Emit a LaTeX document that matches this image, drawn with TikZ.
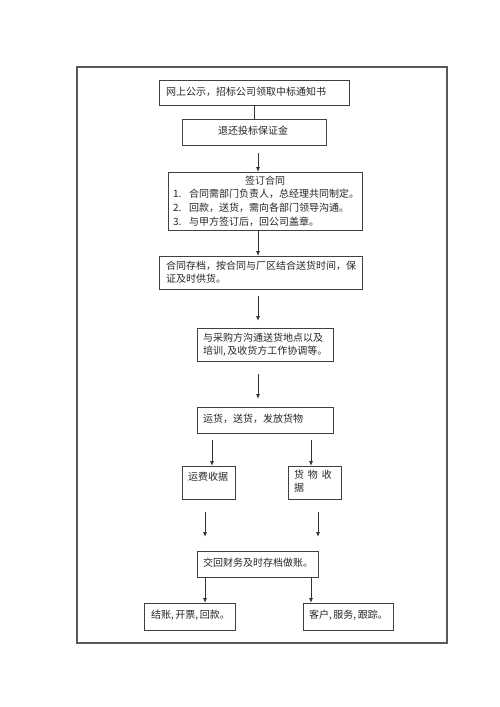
\documentclass[tikz,border=0pt]{standalone}
\usepackage{fontspec}
\setmainfont{Noto Sans CJK SC}
\usetikzlibrary{arrows.meta,calc}
\tikzset{
  boxstyle/.style={draw=black!75, line width=0.8pt, inner sep=0pt, outer sep=0pt, anchor=north west, fill=white},
  txt/.style={inner sep=0pt, outer sep=0pt, anchor=west, align=left, font=\fontsize{10}{13.5}\selectfont, text=black!85},
  ln/.style={draw=black!80, line width=0.8pt},
  arr/.style={ln, -{Latex[length=5pt,width=4pt]}},
  frame/.style={draw=black!65, line width=1.6pt}
}
\newcommand\mybox[5]{\node[boxstyle, minimum width=#4pt, minimum height=#5pt] (#1) at (#2,#3) {};}
\begin{document}
\begin{tikzpicture}[x=1pt,y=-1pt]
\useasboundingbox (0,0) rectangle (500,707);
\node[frame, minimum width=370pt, minimum height=576pt, inner sep=0pt, anchor=north west] (outer) at (76,66) {};
% boxes
\mybox{b1}{159}{80}{190}{25}
\mybox{b2}{182}{119}{144}{26}
\mybox{b3}{168}{172}{194}{58}
\mybox{b4}{159}{256}{203}{33}
\mybox{b5}{197}{328}{136}{33}
\mybox{b6}{197}{407}{136}{26}
\mybox{b7}{182}{466}{53}{33}
\mybox{b8}{288}{466}{53}{33}
\mybox{b9}{197}{551}{121}{26}
\mybox{b10}{144}{603}{91}{27}
\mybox{b11}{303}{603}{90}{27}
% texts
\node[txt] (t1) at (166,92) {网上公示，招标公司领取中标通知书};
\node[txt] (t2) at (218,131) {退还投标保证金};
\node[txt, anchor=center] (t3) at (265,181) {签订合同};
\node[txt] (t3a) at (173,194) {1.};
\node[txt] (t3b) at (173,208) {2.};
\node[txt] (t3c) at (173,222) {3.};
\node[txt] (t3d) at (189,194) {合同需部门负责人，总经理共同制定。};
\node[txt] (t3e) at (189,208) {回款，送货，需向各部门领导沟通。};
\node[txt] (t3f) at (189,222) {与甲方签订后，回公司盖章。};
\node[txt, anchor=north west] (t4) at (166,261) {合同存档，按合同与厂区结合送货时间，保\\证及时供货。};
\node[txt, anchor=north west] (t5) at (203,333) {与采购方沟通送货地点以及\\培训,\,及收货方工作协调等。};
\node[txt] (t6) at (203,419) {运货，送货，发放货物};
\node[txt] (t7) at (188,477) {运费收据};
\node[txt, anchor=north west] (t8) at (294,470) {货\hspace{0.4em}物\hspace{0.4em}收\\据};
\node[txt] (t9) at (203,563) {交回财务及时存档做账。};
\node[txt] (t10) at (151,615) {结账,\,开票,\,回款。};
\node[txt] (t11) at (309,615) {客户,\,服务,\,跟踪。};
% connectors
\draw[ln] (b1.south) -- (b2.north);
\draw[arr] ($(b2.south -| 258,0)+(0,8)$) -- (b3.north -| 258,0);
\draw[arr] (b3.south -| 258,0) -- (b4.north -| 258,0);
\draw[arr] ($(b4.south -| 258,0)+(0,7)$) -- ($(b5.north -| 258,0)+(0,-7)$);
\draw[arr] ($(b5.south -| 258,0)+(0,13)$) -- ($(b6.north -| 258,0)+(0,-8)$);
\draw[arr] ($(b6.south -| 212,0)+(0,7)$) -- (b7.north -| 212,0);
\draw[arr] ($(b6.south -| 311,0)+(0,7)$) -- (b8.north -| 311,0);
\draw[arr] ($(b7.south -| 205,0)+(0,13)$) -- ($(b9.north -| 205,0)+(0,-14)$);
\draw[arr] ($(b8.south -| 318,0)+(0,13)$) -- ($(b9.north -| 318,0)+(0,-14)$);
\draw[arr] (b9.south -| 205,0) -- (b10.north -| 205,0);
\draw[arr] (b9.south -| 311,0) -- (b11.north -| 311,0);
\end{tikzpicture}
\end{document}
